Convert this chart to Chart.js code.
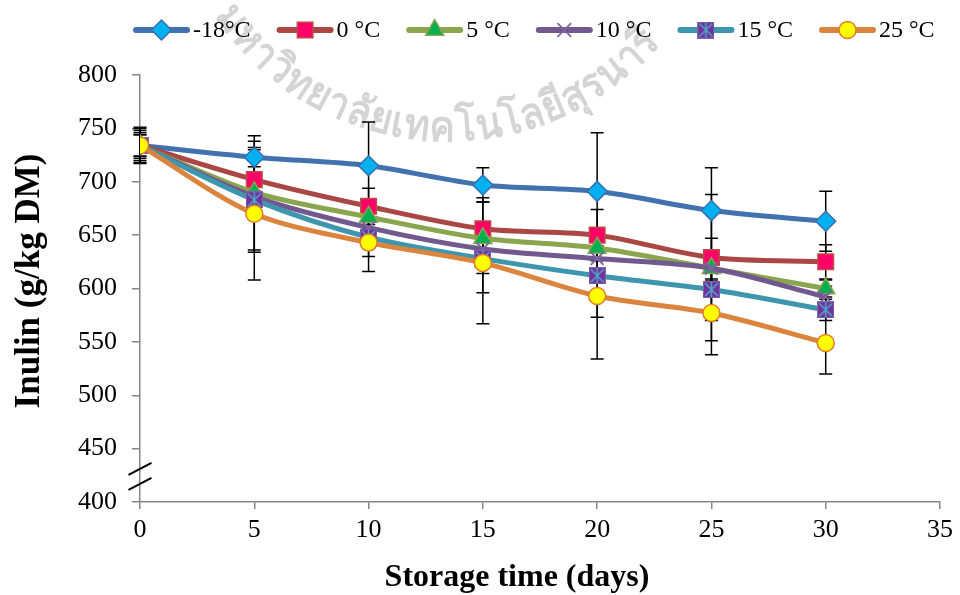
<!DOCTYPE html>
<html>
<head>
<meta charset="utf-8">
<script src="https://cdn.jsdelivr.net/npm/chart.js@4"></script>
<style>
  html, body { margin: 0; padding: 0; background: #fff; }
</style>
</head>
<body>
<canvas id="myChart" width="960" height="595"></canvas>
<script>
const days = [0, 5, 10, 15, 20, 25, 30];
const seriesNames = ['-18°C', '0 °C', '5 °C', '10 °C', '15 °C', '25 °C'];

// inulin, g/kg DM
const inulinM18 = [734, 723, 715, 697, 691, 673, 663];
const inulin0   = [734, 702, 677, 656, 650, 629, 625];
const inulin5   = [734, 690, 667, 647, 638, 619, 600];
const inulin10  = [734, 686, 657, 637, 628, 619, 592];
const inulin15  = [734, 683, 648, 628, 612, 599, 580];
const inulin25  = [734, 670, 643, 624, 593, 577, 549];

// +/- error
const errM18 = [17, 20, 41, 16, 55, 40, 28];
const err0   = [12, 12, 17, 29, 24, 59, 16];
const err5   = [10, 10, 10, 10, 10, 10, 8];
const err10  = [14, 52, 27, 23, 12, 12, 10];
const err15  = [10, 47, 8, 32, 39, 48, 10];
const err25  = [16, 62, 27, 57, 59, 39, 29];

const yMin = 400, yMax = 800, yStep = 50;
const xMin = 0, xMax = 35, xStep = 5;

const xTitle = 'Storage time (days)';
const yTitle = 'Inulin (g/kg DM)';

const serif = '"Liberation Serif", "Times New Roman", serif';
const watermark = 'มหาวิทยาลัยเทคโนโลยีสุรนารี';

// 15 °C marker: purple square with a teal star
function starSquare() {
  const c = document.createElement('canvas');
  c.width = 17; c.height = 17;
  const g = c.getContext('2d');
  g.fillStyle = '#7030A0';
  g.fillRect(0, 0, 17, 17);
  g.strokeStyle = '#8064A2';
  g.lineWidth = 1;
  g.strokeRect(0.5, 0.5, 16, 16);
  g.strokeStyle = '#4BACC6';
  g.lineWidth = 1.5;
  g.beginPath();
  g.moveTo(2, 2); g.lineTo(15, 15);
  g.moveTo(15, 2); g.lineTo(2, 15);
  g.moveTo(8.5, 1); g.lineTo(8.5, 16);
  g.stroke();
  return c;
}
const starImg = starSquare();

const styles = [
  { line: '#4171AE', fill: '#00B0F0', edge: '#3B6EAC', shape: 'rectRot', r: 10 },
  { line: '#AA4643', fill: '#FF0066', edge: '#BE4B48', shape: 'rect', r: 11 },
  { line: '#89A54E', fill: '#00B050', edge: '#89A54E', shape: 'triangle', r: 10.5 },
  { line: '#71588F', fill: '#71588F', edge: '#8064A2', shape: 'crossRot', r: 9 },
  { line: '#3D96AE', fill: '#7030A0', edge: '#7030A0', shape: starImg, r: 9 },
  { line: '#DB843D', fill: '#FFFF00', edge: '#E07B2E', shape: 'circle', r: 8.5 }
];

const values = [inulinM18, inulin0, inulin5, inulin10, inulin15, inulin25];
const errors = [errM18, err0, err5, err10, err15, err25];

const datasets = values.map((v, i) => ({
  label: seriesNames[i],
  data: days.map((d, k) => ({ x: d, y: v[k] })),
  borderColor: styles[i].line,
  borderWidth: 5,
  tension: 0.3,
  fill: false,
  pointStyle: styles[i].shape,
  pointRadius: styles[i].r,
  pointBackgroundColor: styles[i].fill,
  pointBorderColor: styles[i].edge,
  pointBorderWidth: styles[i].shape === 'crossRot' ? 1.8 : 1.5,
  order: 5 - i
}));

function drawMarker(g, i, x, y) {
  const s = styles[i];
  g.save();
  g.fillStyle = s.fill;
  g.strokeStyle = s.edge;
  g.lineWidth = 1.5;
  if (s.shape === 'rectRot') {
    g.beginPath();
    g.moveTo(x - s.r, y); g.lineTo(x, y - s.r); g.lineTo(x + s.r, y); g.lineTo(x, y + s.r);
    g.closePath(); g.fill(); g.stroke();
  } else if (s.shape === 'rect') {
    const h = s.r * Math.SQRT1_2;
    g.fillRect(x - h, y - h, 2 * h, 2 * h);
    g.strokeRect(x - h, y - h, 2 * h, 2 * h);
  } else if (s.shape === 'triangle') {
    g.beginPath();
    for (let k = 0; k < 3; k++) {
      const a = k * 2 * Math.PI / 3;
      g.lineTo(x + Math.sin(a) * s.r, y - Math.cos(a) * s.r);
    }
    g.closePath(); g.fill(); g.stroke();
  } else if (s.shape === 'crossRot') {
    const h = s.r * Math.SQRT1_2;
    g.lineWidth = 1.8;
    g.beginPath();
    g.moveTo(x - h, y - h); g.lineTo(x + h, y + h);
    g.moveTo(x + h, y - h); g.lineTo(x - h, y + h);
    g.stroke();
  } else if (s.shape === 'circle') {
    g.beginPath(); g.arc(x, y, s.r, 0, Math.PI * 2); g.fill(); g.stroke();
  } else {
    g.drawImage(s.shape, x - s.shape.width / 2, y - s.shape.height / 2);
  }
  g.restore();
}

const extras = {
  id: 'extras',
  beforeDraw(chart) {
    // faint university watermark along an arc (narrow glyphs)
    const g = chart.ctx;
    const cx = 448, cy = -139, R = 268;
    const aFirst = Math.atan2(32 - cy, 255 - cx);   // centre of the 2nd glyph
    const aLast = Math.atan2(65 - cy, 606 - cx);    // centre of the 20th glyph
    const parts = (typeof Intl !== 'undefined' && Intl.Segmenter)
      ? Array.from(new Intl.Segmenter('th', { granularity: 'grapheme' }).segment(watermark), p => p.segment)
      : Array.from(watermark);
    g.save();
    g.font = 'bold 43px "Noto Sans", "DejaVu Sans", sans-serif';
    let widths = parts.map(p => g.measureText(p).width);
    let span = widths[1] / 2 + widths[19] / 2;
    for (let k = 2; k < 19; k++) span += widths[k];
    const squeeze = ((aFirst - aLast) * R) / span;
    widths = widths.map(w => w * squeeze);
    g.fillStyle = 'rgba(0,0,0,0.17)';
    g.textAlign = 'center';
    g.textBaseline = 'middle';
    let th = aFirst + (widths[0] / 2 + widths[1] / 2) / R;
    parts.forEach((p, k) => {
      if (k > 0) th -= (widths[k - 1] / 2 + widths[k] / 2) / R;
      g.save();
      g.translate(cx + R * Math.cos(th), cy + R * Math.sin(th));
      g.rotate(th - Math.PI / 2);
      g.scale(squeeze, 1);
      g.fillText(p, 0, 0);
      g.restore();
    });
    g.restore();
  },
  beforeDatasetsDraw(chart) {
    // error bars
    const g = chart.ctx;
    const xs = chart.scales.x, ys = chart.scales.y;
    g.save();
    g.strokeStyle = '#000';
    g.lineWidth = 1.5;
    values.forEach((v, i) => {
      days.forEach((d, k) => {
        const px = xs.getPixelForValue(d);
        const top = ys.getPixelForValue(v[k] + errors[i][k]);
        const bot = ys.getPixelForValue(v[k] - errors[i][k]);
        g.beginPath();
        g.moveTo(px, top); g.lineTo(px, bot);
        g.moveTo(px - 6.5, top); g.lineTo(px + 6.5, top);
        g.moveTo(px - 6.5, bot); g.lineTo(px + 6.5, bot);
        g.stroke();
      });
    });
    g.restore();
  },
  afterDraw(chart) {
    const g = chart.ctx;
    const xs = chart.scales.x, ys = chart.scales.y;
    // axis break marks
    const ax = xs.getPixelForValue(xMin);
    g.save();
    g.strokeStyle = '#000';
    g.lineWidth = 2;
    [431, 417].forEach(v => {
      const py = ys.getPixelForValue(v);
      g.beginPath();
      g.moveTo(ax - 11.5, py + 6);
      g.lineTo(ax + 11.5, py - 6);
      g.stroke();
    });
    g.restore();

    // axis titles
    g.save();
    g.fillStyle = '#000';
    g.textAlign = 'center';
    g.textBaseline = 'middle';
    g.font = 'bold 32px ' + serif;
    g.fillText(xTitle, 517, 578);
    g.translate(30, 281);
    g.rotate(-Math.PI / 2);
    g.font = 'bold 35px ' + serif;
    g.fillText(yTitle, 0, 0);
    g.restore();

    // legend: line with marker, then label
    g.save();
    g.font = '24px ' + serif;
    g.textBaseline = 'middle';
    g.textAlign = 'left';
    g.fillStyle = '#000';
    let x = 133;
    const y = 30;
    seriesNames.forEach((name, i) => {
      g.strokeStyle = styles[i].line;
      g.lineWidth = 6;
      g.lineCap = 'round';
      g.beginPath();
      g.moveTo(x + 3, y); g.lineTo(x + 54, y);
      g.stroke();
      drawMarker(g, i, x + 28.5, y);
      g.fillText(name, x + 60, y + 1);
      x += 60 + g.measureText(name).width + 26;
    });
    g.restore();
  }
};

const ctx = document.getElementById('myChart');
new Chart(ctx, {
  type: 'line',
  data: { datasets: datasets },
  plugins: [extras],
  options: {
    responsive: false,
    animation: false,
    layout: { padding: { left: 0, right: 20, top: 75, bottom: 0 } },
    plugins: {
      legend: { display: false },
      tooltip: { enabled: false }
    },
    scales: {
      x: {
        type: 'linear',
        min: xMin,
        max: xMax,
        ticks: { stepSize: xStep, color: '#000', font: { family: serif, size: 26 }, padding: 6 },
        grid: { drawOnChartArea: false, drawTicks: true, tickLength: 7, color: '#868686', lineWidth: 1.5 },
        border: { color: '#868686', width: 1.5 },
        afterFit(scale) { scale.height = 93; }
      },
      y: {
        min: yMin,
        max: yMax,
        ticks: { stepSize: yStep, color: '#000', font: { family: serif, size: 26 }, padding: 15 },
        grid: { drawOnChartArea: false, drawTicks: true, tickLength: 8, color: '#868686', lineWidth: 1.5 },
        border: { color: '#868686', width: 1.5 },
        afterFit(scale) { scale.width = 140; }
      }
    }
  }
});
</script>
</body>
</html>
